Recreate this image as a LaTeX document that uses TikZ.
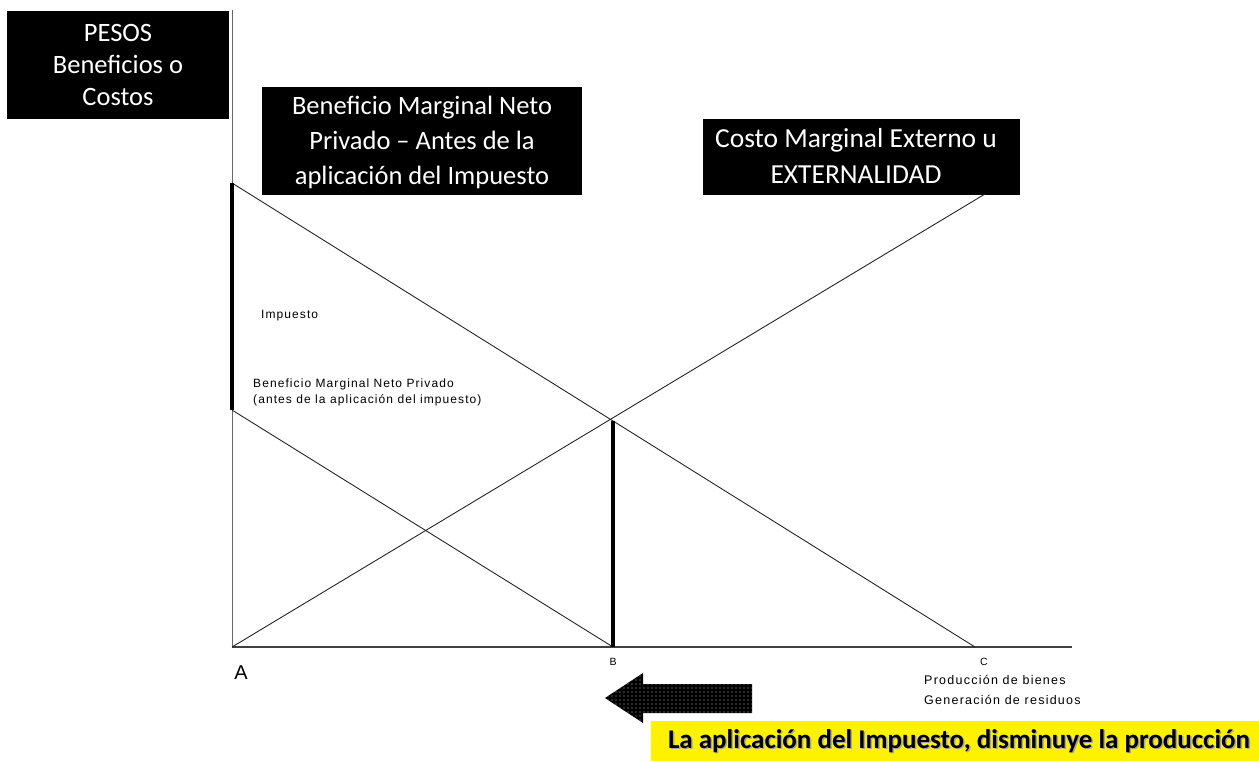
\documentclass[tikz,border=0pt]{standalone}
\usepackage{fontspec}
\setmainfont{Carlito}
\newfontfamily\arial{Liberation Sans}
\begin{document}
\begin{tikzpicture}[x=1pt,y=-1pt,
  small/.style={font=\arial\fontsize{12}{16}\selectfont\addfontfeature{LetterSpace=9},inner sep=0pt,anchor=west,align=left},
  thin line/.style={line width=0.9pt,black!85},
  bar/.style={line width=4.5pt,black}]
\useasboundingbox (0,0) rectangle (1259,761);
% boxes
\fill[black] (7,11) rectangle (229,119);
\node[text=white,align=center,font=\fontsize{26.5}{32}\selectfont] (pesos) at (118,65) {PESOS\\Beneficios o\\Costos};
\fill[black] (262,87) rectangle (582,195);
\node[text=white,align=center,font=\fontsize{26.5}{35}\selectfont] (bmnp) at (422,142) {Beneficio Marginal Neto\\Privado -- Antes de la\\aplicación del Impuesto};
\fill[black] (703,119) rectangle (1020,195);
\node[text=white,align=center,font=\fontsize{27.5}{36}\selectfont] (cme) at (856,156) {Costo Marginal Externo u\\EXTERNALIDAD};
% coordinates
\coordinate (A) at (232,647);
\coordinate (top) at (232,10);
\coordinate (xend) at (1072,647);
\coordinate (P1) at (232,183);
\coordinate (P2) at (232,410);
\coordinate (B) at (613,647);
\coordinate (C) at (975,647);
\coordinate (E) at (985,194);
\coordinate (X) at (613,421);
% axes
\draw[line width=0.8pt,black!60] (top) -- (A);
\draw[line width=1.2pt,black!75] (A) -- (xend);
% lines
\draw[thin line] (P1) -- (C);
\draw[thin line] (P2) -- (B);
\draw[thin line] (A) -- (E);
% bars
\draw[bar] (P1) -- (P2);
\draw[bar] (X) -- (B);
% labels
\node[small] (imp) at (261,316) {Impuesto};
\node[small] (bm) at (253,392) {Beneficio Marginal Neto Privado\\(antes de la aplicación del impuesto)};
\node[font=\arial\fontsize{20}{24}\selectfont,inner sep=0pt] (la) at (241,673) {A};
\node[font=\arial\fontsize{10.5}{12}\selectfont,inner sep=0pt] (lb) at (613,662) {B};
\node[font=\arial\fontsize{10.5}{12}\selectfont,inner sep=0pt] (lc) at (984,662) {C};
\node[small,font=\arial\fontsize{12.5}{20}\selectfont\addfontfeature{LetterSpace=10}] (prod) at (924,690) {Producción de bienes\\Generación de residuos};
% arrow (dotted fill)
\path[fill=black] (605,698) -- (643,673) -- (643,684) -- (752,684) -- (752,713) -- (643,713) -- (643,723) -- cycle;
\begin{scope}
\clip (605,698) -- (643,673) -- (643,684) -- (752,684) -- (752,713) -- (643,713) -- (643,723) -- cycle;
\foreach \i in {0,...,38}{
  \foreach \j in {0,...,13}{
    \fill[white!70!black] (604+\i*4,672+\j*4) circle (0.7);
  }
}
\end{scope}
% yellow box
\fill[yellow] (651,721) rectangle (1259,761);
\node[font=\bfseries\fontsize{27}{30}\selectfont,text=black!35,inner sep=0pt] at (960.5,742.5) {La aplicación del Impuesto, disminuye la producción};
\node[font=\bfseries\fontsize{27}{30}\selectfont,inner sep=0pt] (msg) at (959,741) {La aplicación del Impuesto, disminuye la producción};
\end{tikzpicture}
\end{document}
